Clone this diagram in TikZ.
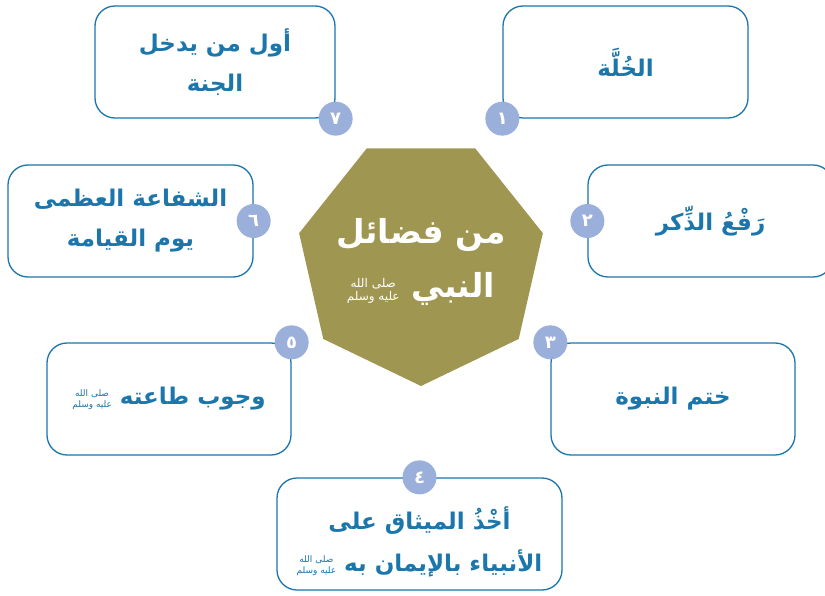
\documentclass[tikz,border=0pt]{standalone}
\usepackage{fontspec}
\usetikzlibrary{shapes.geometric}
\newfontfamily\arabicfont[Script=Arabic]{DejaVu Sans}
\TeXXeTstate=1
\definecolor{fadlblue}{HTML}{1B76AC}
\definecolor{badgeblue}{HTML}{9BAFDB}
\definecolor{olive}{HTML}{9F9651}
\newcommand{\artext}[1]{\beginR #1\endR}
% the honorific, stacked in two small lines
\newcommand{\salla}[1]{\raisebox{-0.1em}{\fontsize{#1}{#1}\selectfont\mdseries
  \shortstack{\beginR صلى الله\endR\\\beginR عليه وسلم\endR}}}
\tikzset{
  fadl/.style={draw=fadlblue, line width=1.3pt, rounded corners=20pt, fill=white,
    minimum height=112pt, text=fadlblue, align=center,
    font=\arabicfont\bfseries\fontsize{23}{40}\selectfont},
  fadltext/.style={text=fadlblue, align=center,
    font=\arabicfont\bfseries\fontsize{23}{42}\selectfont},
  badge/.style={circle, fill=badgeblue, minimum size=34pt, inner sep=0pt,
    text=white, font=\arabicfont\bfseries\fontsize{18}{18}\selectfont},
  hept/.style={regular polygon, regular polygon sides=7, shape border rotate=180,
    minimum size=250pt, inner sep=0pt, fill=olive},
  title/.style={text=white, align=center,
    font=\arabicfont\bfseries\fontsize{33}{54}\selectfont}
}
\begin{document}
\begin{tikzpicture}[x=1pt,y=-1pt]
\useasboundingbox (0,0) rectangle (825,596);
\clip (0,0) rectangle (825,596);
%%% The heptagon in the middle
\node[hept] (hept) at (421,261) {};
\node[title] (title) at (421,262) {\artext{من فضائل}\\\artext{النبي \salla{12}}};
%%%%% The boxes on the right side
\node[fadl, minimum width=245pt] (b1) at (625.5,62) {\artext{الخُلَّة}};
\node[fadl, minimum width=245pt] (b2) at (710.5,221) {\artext{رَفْعُ الذِّكر}};
\node[fadl, minimum width=244pt] (b3) at (673,399) {\artext{ختم النبوة}};
%%%%% The box at the bottom
\node[fadl, minimum width=285pt] (b4) at (419.5,534) {};
\node[fadltext] (t4) at (419.5,542) {\artext{أخْذُ الميثاق على}\\\artext{الأنبياء بالإيمان به \salla{9}}};
%%%%% The boxes on the left side
\node[fadl, minimum width=244pt] (b5) at (169,399) {\artext{وجوب طاعته \salla{9}}};
\node[fadl, minimum width=245pt] (b6) at (130.5,221) {\artext{الشفاعة العظمى}\\\artext{يوم القيامة}};
\node[fadl, minimum width=240pt] (b7) at (215,62) {\artext{أول من يدخل}\\\artext{الجنة}};
%%%% The numbers on the boxes
\node[badge] (n1) at (b1.south west) {\artext{١}};
\node[badge] (n2) at (b2.west) {\artext{٢}};
\node[badge] (n3) at (b3.north west) {\artext{٣}};
\node[badge] (n4) at (b4.north) {\artext{٤}};
\node[badge] (n5) at (b5.north east) {\artext{٥}};
\node[badge] (n6) at (b6.east) {\artext{٦}};
\node[badge] (n7) at (b7.south east) {\artext{٧}};
\end{tikzpicture}
\end{document}
